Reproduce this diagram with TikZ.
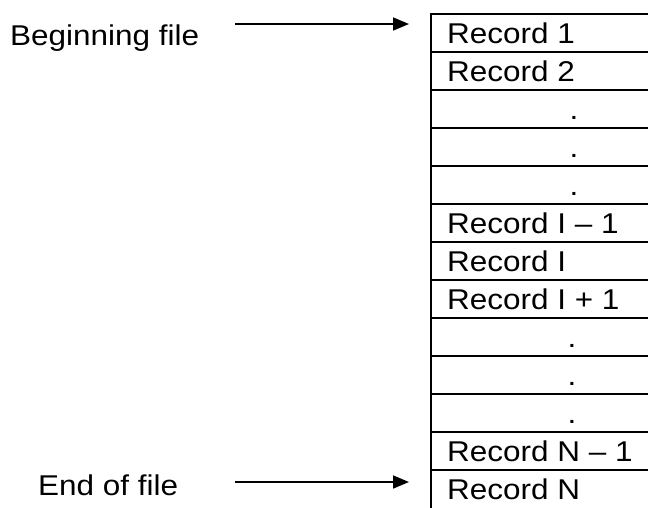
\documentclass[tikz,border=0pt]{standalone}
\usepackage{fontspec}
\setmainfont{Liberation Sans}[FakeStretch=1.1]
\usetikzlibrary{arrows.meta}
\begin{document}
\begin{tikzpicture}[x=1pt,y=-1pt,
  rule/.style={line width=2.2pt},
  pointer/.style={line width=1.7pt,-{Triangle[length=16pt,width=13pt]}},
  label/.style={anchor=base west,inner sep=0pt,font=\fontsize{28.6}{30}\selectfont},
  rowtext/.style={anchor=base west,inner sep=0pt,font=\fontsize{28.6}{30}\selectfont},
  dottext/.style={anchor=base,inner sep=0pt,font=\fontsize{28.6}{30}\selectfont}]
\useasboundingbox (0,0) rectangle (648,507);

% table frame: left edge and row separators (right and bottom run off the page)
\draw[rule] (431,14) -- (431,510);
\foreach \k in {0,...,12}
  \draw[rule] (429.9,{14+38*\k}) -- (650,{14+38*\k});

% row contents
\node[rowtext] (r1)  at (447,43)          {Record 1};
\node[rowtext] (r2)  at (447,{43+38})     {Record 2};
\node[dottext] (d1)  at (574,{43+2*38})   {.};
\node[dottext] (d2)  at (574,{43+3*38})   {.};
\node[dottext] (d3)  at (574,{43+4*38})   {.};
\node[rowtext] (r6)  at (447,{43+5*38})   {Record I – 1};
\node[rowtext] (r7)  at (447,{43+6*38})   {Record I};
\node[rowtext] (r8)  at (447,{43+7*38})   {Record I + 1};
\node[dottext] (d4)  at (572,{43+8*38})   {.};
\node[dottext] (d5)  at (572,{43+9*38})   {.};
\node[dottext] (d6)  at (572,{43+10*38})  {.};
\node[rowtext] (r12) at (447,{43+11*38})  {Record N – 1};
\node[rowtext] (r13) at (447,{43+12*38})  {Record N};

% side labels and pointers
\node[label] (begin) at (10,45)  {Beginning file};
\node[label] (end)   at (38,495) {End of file};
\coordinate (bs) at (235,24);
\coordinate (bt) at (409,24);
\coordinate (es) at (235,482);
\coordinate (et) at (409,482);
\draw[pointer] (bs) -- (bt);
\draw[pointer] (es) -- (et);
\end{tikzpicture}
\end{document}
